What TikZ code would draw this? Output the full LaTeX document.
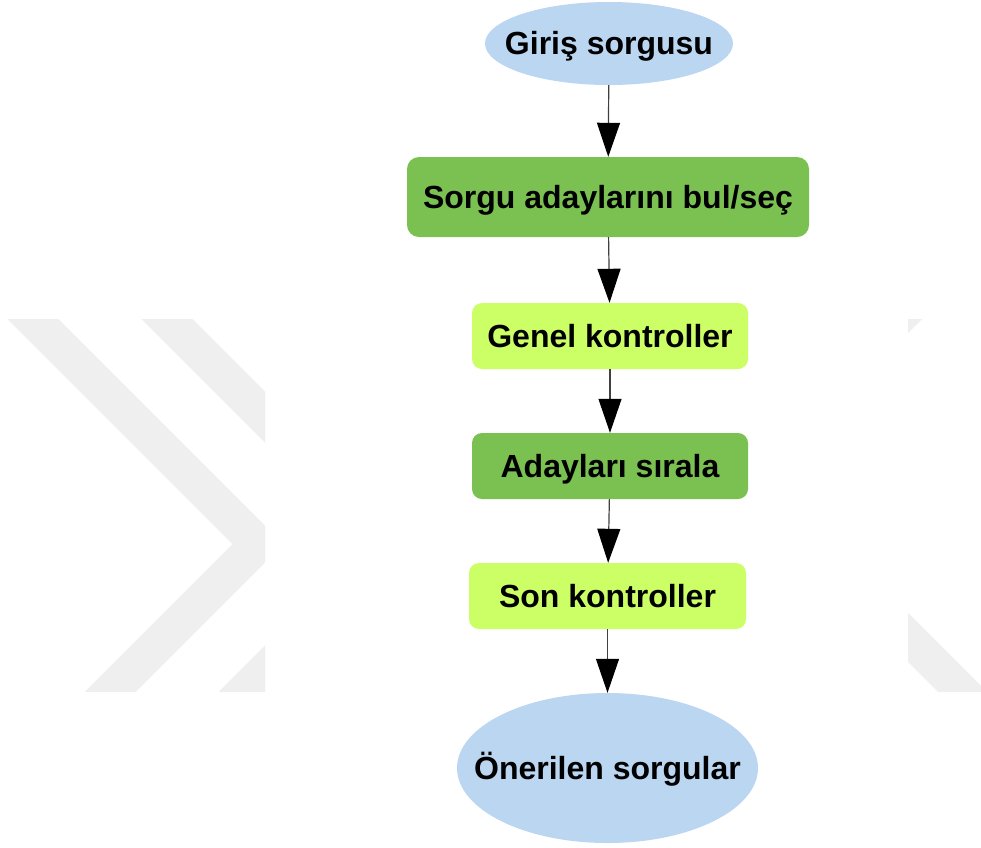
\documentclass[tikz,border=0pt]{standalone}
\usepackage{fontspec}
\setmainfont{Liberation Sans}
\usetikzlibrary{shapes.geometric,arrows.meta}
\definecolor{wm}{RGB}{239,239,239}
\definecolor{ellblue}{RGB}{186,214,241}
\definecolor{darkgr}{RGB}{122,193,82}
\definecolor{lightgr}{RGB}{204,255,102}
\begin{document}
\begin{tikzpicture}[x=1pt,y=-1pt,
  lbl/.style={font=\fontsize{32}{36}\selectfont\bfseries, text height=22.9pt, text depth=0pt, inner sep=0pt},
  stepbox/.style={rectangle, rounded corners=10pt, draw=none, inner sep=0pt,
     font=\fontsize{32}{36}\selectfont\bfseries, text height=22.9pt, text depth=0pt},
  termell/.style={ellipse, draw=none, fill=ellblue, inner sep=0pt},
  flow/.style={line width=1.2pt, draw=black!75, -{Triangle[length=34pt,width=23pt,color=black]}}
]
\useasboundingbox (0,0) rectangle (981,847);
\fill[white] (0,0) rectangle (981,847);
% watermark
\begin{scope}
  \clip (0,319) rectangle (265,691);
  \foreach \dx in {0,134} {
    \fill[wm] (232.5+\dx-300,244) -- (232.5+\dx,544) -- (232.5+\dx-300,844)
      -- (283.5+\dx-300,844) -- (283.5+\dx,544) -- (283.5+\dx-300,244) -- cycle;
  }
\end{scope}
\begin{scope}
  \clip (908,319) rectangle (981,691);
  \fill[wm] (908,613) -- (1100,805) -- (1100,854) -- (908,662) -- cycle;
  \fill[wm] (908,318) -- (923,318) -- (908,333) -- cycle;
\end{scope}
% nodes
\node[termell, minimum width=248pt, minimum height=83pt] (e1) at (609,43.5) {};
\node[lbl] (e1t) at (e1.center) {Giriş sorgusu};
\node[stepbox, fill=darkgr, minimum width=402pt, minimum height=80pt, rounded corners=12pt] (b2) at (608,197) {Sorgu adaylarını bul/seç};
\node[stepbox, fill=lightgr, minimum width=276pt, minimum height=66pt] (b3) at (610,336) {Genel kontroller};
\node[stepbox, fill=darkgr, minimum width=276pt, minimum height=66pt] (b4) at (610,466) {Adayları sırala};
\node[stepbox, fill=lightgr, minimum width=277pt, minimum height=66pt] (b5) at (607.5,596) {Son kontroller};
\node[termell, minimum width=301pt, minimum height=150pt] (e6) at (607.5,768) {};
\node[lbl] (e6t) at (e6.center) {Önerilen sorgular};
% connectors
\draw[flow] (e1) -- (b2);
\draw[flow] (b2) -- (b3);
\draw[flow] (b3) -- (b4);
\draw[flow] (b4) -- (b5);
\draw[flow] (b5) -- (e6);
\end{tikzpicture}
\end{document}
